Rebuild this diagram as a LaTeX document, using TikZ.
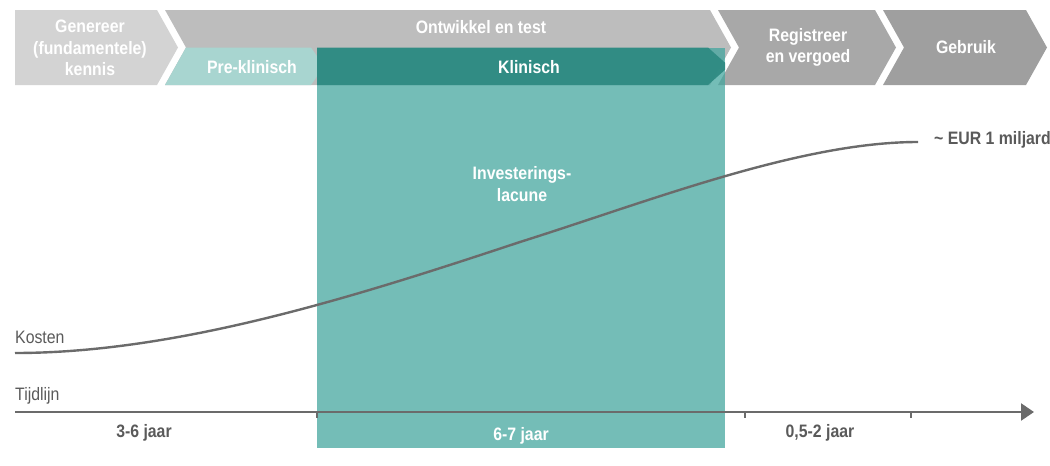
\documentclass[tikz,border=0pt]{standalone}
\usepackage{fontspec}
\setmainfont[FakeStretch=0.88]{Liberation Sans}
\usetikzlibrary{arrows.meta}
\definecolor{gA}{HTML}{D3D3D3}
\definecolor{gB}{HTML}{BDBDBD}
\definecolor{gC}{HTML}{A8A8A8}
\definecolor{gD}{HTML}{9F9F9F}
\definecolor{preT}{HTML}{A8D5D0}
\definecolor{rectT}{RGB}{67,166,158}
\definecolor{klinT}{HTML}{2E8A82}
\definecolor{lineG}{HTML}{6B6B6B}
\definecolor{txtG}{HTML}{5A5A5A}
\tikzset{
  phase/.style={font=\fontsize{18}{21.5}\selectfont\bfseries, text=white, align=center, inner sep=0pt},
  lbl/.style={font=\fontsize{18}{21.5}\selectfont, text=txtG, inner sep=0pt, anchor=west},
  yrs/.style={font=\fontsize{18}{21.5}\selectfont\bfseries, text=txtG, inner sep=0pt},
  axisline/.style={draw=lineG, line width=2.4pt},
  tick/.style={draw=lineG, line width=1.5pt},
}
\begin{document}
\begin{tikzpicture}[x=1pt,y=-1pt]
\useasboundingbox (0,0) rectangle (1050,466);
% grey chevrons
\fill[gA] (15,10) -- (157,10) -- (178,47.5) -- (157,85) -- (15,85) -- cycle;
\fill[gB] (165,10) -- (710,10) -- (731,47.5) -- (710,85) -- (165,85) -- (186,47.5) -- cycle;
\fill[gC] (718,10) -- (875,10) -- (896,47.5) -- (875,85) -- (718,85) -- (739,47.5) -- cycle;
\fill[gD] (883,10) -- (1026,10) -- (1047,47.5) -- (1026,85) -- (883,85) -- (904,47.5) -- cycle;
% pre-klinisch
\fill[preT] (186,47.5) -- (311,47.5) -- (324,66.25) -- (311,85) -- (165,85) -- cycle;
% investment gap rectangle
\fill[rectT, opacity=0.74] (317,47.5) rectangle (725,448);
% klinisch chevron
\begin{scope}
\clip (317,47.5) rectangle (725,85);
\fill[klinT, opacity=0.93] (300,47.5) -- (708,47.5) -- (729,66.25) -- (708,85) -- (300,85) -- cycle;
\end{scope}
% phase labels
\node[phase] (gen) at (90,48) {Genereer\\(fundamentele)\\kennis};
\node[phase] (ont) at (481,27) {Ontwikkel en test};
\node[phase] (pre) at (252,67) {Pre-klinisch};
\node[phase] (kli) at (529,67) {Klinisch};
\node[phase] (reg) at (808,47.5) {Registreer\\en vergoed};
\node[phase] (geb) at (966,47.5) {Gebruik};
\node[phase] (inv) at (522,184) {Investerings-\\lacune};
% cost curve
\coordinate (c0) at (15,353);
\coordinate (c1) at (520,242);
\coordinate (c2) at (918,142);
\draw[lineG, line width=2.4pt] (c0) .. controls (180,353) and (360,295) .. (c1)
  .. controls (650,201) and (800,142) .. (c2);
\node[lbl] (kos) at (15,337) {Kosten};
\node[yrs, anchor=west] (eur) at (934,140) {\textasciitilde\ EUR 1 miljard};
% timeline
\coordinate (ax0) at (15,412);
\coordinate (ax1) at (1034,412);
\draw[axisline, -{Triangle[length=13pt,width=17pt]}] (ax0) -- (ax1);
\coordinate (t1) at (317,412);
\coordinate (t2) at (745,412);
\coordinate (t3) at (911,412);
\foreach \t in {t1,t2,t3} \draw[tick] (\t) -- ++(0,6);
\node[lbl] (tij) at (15,396) {Tijdlijn};
\node[yrs] (y1) at (144,433) {3-6 jaar};
\node[yrs, text=white] (y2) at (521,436) {6-7 jaar};
\node[yrs] (y3) at (820,433) {0,5-2 jaar};
\end{tikzpicture}
\end{document}
